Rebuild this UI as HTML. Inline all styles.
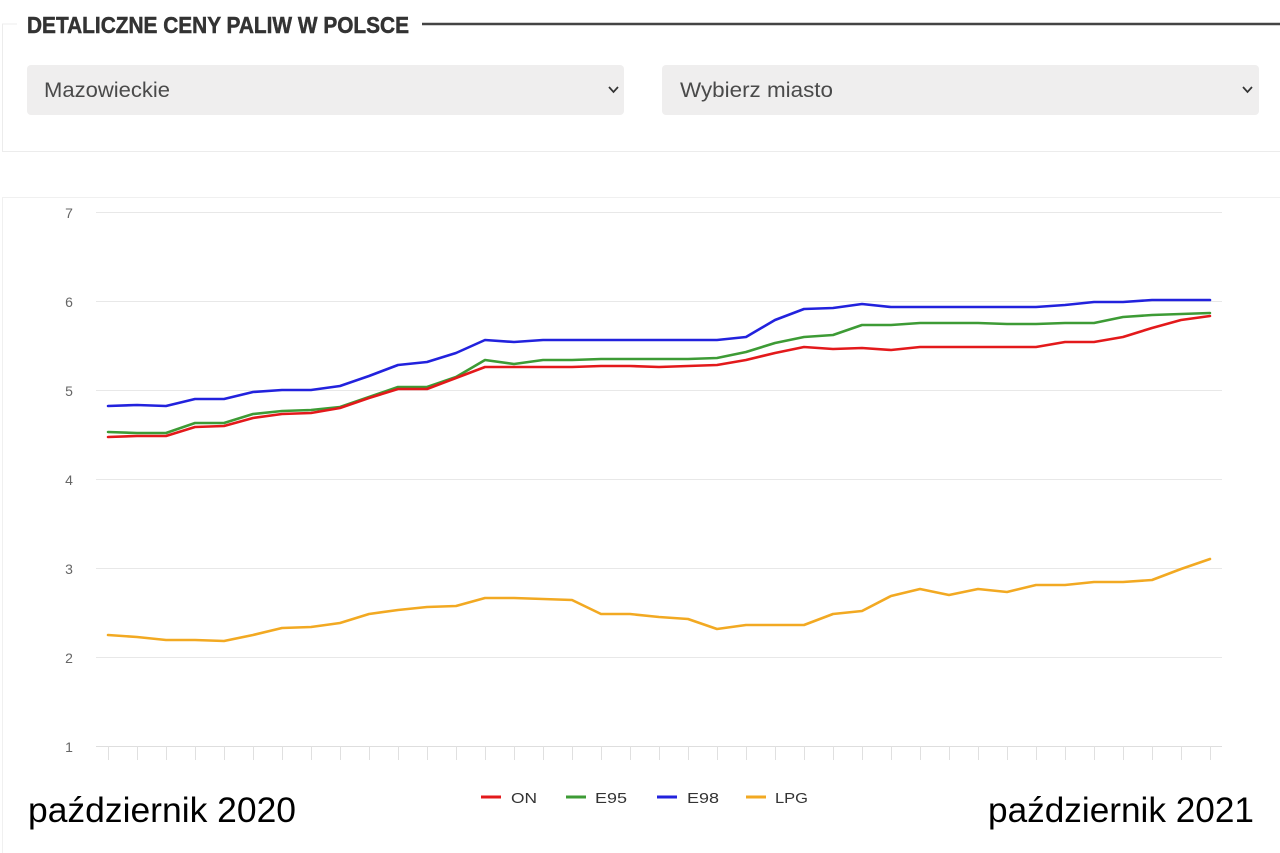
<!DOCTYPE html>
<html><head><meta charset="utf-8"><style>
html,body{margin:0;padding:0;background:#fff;width:1280px;height:853px;overflow:hidden}
svg{display:block}
</style></head><body>
<svg width="1280" height="853" viewBox="0 0 1280 853" xmlns="http://www.w3.org/2000/svg">
<rect width="1280" height="853" fill="#fff"/>
<!-- top panel -->
<line x1="2.5" y1="24" x2="2.5" y2="151" stroke="#ececec" stroke-width="1"/>
<line x1="2" y1="24" x2="17" y2="24" stroke="#ececec" stroke-width="1"/>
<line x1="2" y1="151.5" x2="1280" y2="151.5" stroke="#ececec" stroke-width="1"/>
<text x="27" y="33" font-family="Liberation Sans, sans-serif" font-weight="bold" font-size="23" fill="#333" stroke="#333" stroke-width="0.5" textLength="382" lengthAdjust="spacingAndGlyphs">DETALICZNE CENY PALIW W POLSCE</text>
<line x1="422" y1="24" x2="1280" y2="24" stroke="#444" stroke-width="2.5"/>
<rect x="27" y="65" width="597" height="50" rx="4" fill="#efeeee"/>
<text x="44" y="97" font-family="Liberation Sans, sans-serif" font-size="21" fill="#4a4a4a" textLength="126" lengthAdjust="spacingAndGlyphs">Mazowieckie</text>
<polyline points="609,87 613.5,92 618,87" fill="none" stroke="#333" stroke-width="1.7"/>
<rect x="662" y="65" width="597" height="50" rx="4" fill="#efeeee"/>
<text x="680" y="97" font-family="Liberation Sans, sans-serif" font-size="21" fill="#4a4a4a" textLength="153" lengthAdjust="spacingAndGlyphs">Wybierz miasto</text>
<polyline points="1243,87 1247.5,92 1252,87" fill="none" stroke="#333" stroke-width="1.7"/>
<!-- chart panel -->
<line x1="2" y1="197.5" x2="1280" y2="197.5" stroke="#f0f0f0" stroke-width="1"/>
<line x1="2.5" y1="197" x2="2.5" y2="853" stroke="#f0f0f0" stroke-width="1"/>
<g stroke="#e8e8e8" stroke-width="1">
<line x1="96" y1="212.5" x2="1222" y2="212.5"/>
<line x1="96" y1="301.5" x2="1222" y2="301.5"/>
<line x1="96" y1="390.5" x2="1222" y2="390.5"/>
<line x1="96" y1="479.5" x2="1222" y2="479.5"/>
<line x1="96" y1="568.5" x2="1222" y2="568.5"/>
<line x1="96" y1="657.5" x2="1222" y2="657.5"/>
</g>
<line x1="96" y1="746.5" x2="1222" y2="746.5" stroke="#dedede" stroke-width="1"/>
<path d="M108.5 746v14M137.5 746v14M166.5 746v14M195.5 746v14M224.5 746v14M253.5 746v14M282.5 746v14M311.5 746v14M340.5 746v14M369.5 746v14M398.5 746v14M427.5 746v14M456.5 746v14M485.5 746v14M514.5 746v14M543.5 746v14M572.5 746v14M601.5 746v14M630.5 746v14M659.5 746v14M688.5 746v14M717.5 746v14M746.5 746v14M775.5 746v14M804.5 746v14M833.5 746v14M862.5 746v14M891.5 746v14M920.5 746v14M949.5 746v14M978.5 746v14M1007.5 746v14M1036.5 746v14M1065.5 746v14M1094.5 746v14M1123.5 746v14M1152.5 746v14M1181.5 746v14M1210.5 746v14" stroke="#e0e0e0" stroke-width="1"/>
<g font-family="Liberation Sans, sans-serif" font-size="14" fill="#666" text-anchor="middle">
<text x="69" y="218">7</text>
<text x="69" y="307">6</text>
<text x="69" y="396">5</text>
<text x="69" y="485">4</text>
<text x="69" y="574">3</text>
<text x="69" y="663">2</text>
<text x="69" y="752">1</text>
</g>
<g fill="none" stroke-width="2.6" stroke-linejoin="round" stroke-linecap="round">
<polyline stroke="#f2a922" points="108,635 137,637 166,640 195,640 224,641 253,635 282,628 311,627 340,623 369,614 398,610 427,607 456,606 485,598 514,598 543,599 572,600 601,614 630,614 659,617 688,619 717,629 746,625 775,625 804,625 833,614 862,611 891,596 920,589 949,595 978,589 1007,592 1036,585 1065,585 1094,582 1123,582 1152,580 1181,569 1210,559"/>
<polyline stroke="#2222dd" points="108,406 137,405 166,406 195,399 224,399 253,392 282,390 311,390 340,386 369,376 398,365 427,362 456,353 485,340 514,342 543,340 572,340 601,340 630,340 659,340 688,340 717,340 746,337 775,320 804,309 833,308 862,304 891,307 920,307 949,307 978,307 1007,307 1036,307 1065,305 1094,302 1123,302 1152,300 1181,300 1210,300"/>
<polyline stroke="#3d9b35" points="108,432 137,433 166,433 195,423 224,423 253,414 282,411 311,410 340,407 369,397 398,387 427,387 456,377 485,360 514,364 543,360 572,360 601,359 630,359 659,359 688,359 717,358 746,352 775,343 804,337 833,335 862,325 891,325 920,323 949,323 978,323 1007,324 1036,324 1065,323 1094,323 1123,317 1152,315 1181,314 1210,313"/>
<polyline stroke="#e3191b" points="108,437 137,436 166,436 195,427 224,426 253,418 282,414 311,413 340,408 369,398 398,389 427,389 456,378 485,367 514,367 543,367 572,367 601,366 630,366 659,367 688,366 717,365 746,360 775,353 804,347 833,349 862,348 891,350 920,347 949,347 978,347 1007,347 1036,347 1065,342 1094,342 1123,337 1152,328 1181,320 1210,316"/>
</g>
<!-- legend -->
<g stroke-width="3">
<line x1="481" y1="797" x2="501" y2="797" stroke="#e3191b"/>
<line x1="566" y1="797" x2="586" y2="797" stroke="#3d9b35"/>
<line x1="657" y1="797" x2="677" y2="797" stroke="#2222dd"/>
<line x1="746" y1="797" x2="766" y2="797" stroke="#f2a922"/>
</g>
<g font-family="Liberation Sans, sans-serif" font-size="15" fill="#333">
<text x="511" y="803" textLength="26" lengthAdjust="spacingAndGlyphs">ON</text>
<text x="595" y="803" textLength="32" lengthAdjust="spacingAndGlyphs">E95</text>
<text x="687" y="803" textLength="32" lengthAdjust="spacingAndGlyphs">E98</text>
<text x="775" y="803" textLength="33" lengthAdjust="spacingAndGlyphs">LPG</text>
</g>
<g font-family="Liberation Sans, sans-serif" font-size="35" fill="#000">
<text x="28" y="822" textLength="268" lengthAdjust="spacingAndGlyphs">październik 2020</text>
<text x="988" y="822" textLength="266" lengthAdjust="spacingAndGlyphs">październik 2021</text>
</g>
</svg>
</body></html>
